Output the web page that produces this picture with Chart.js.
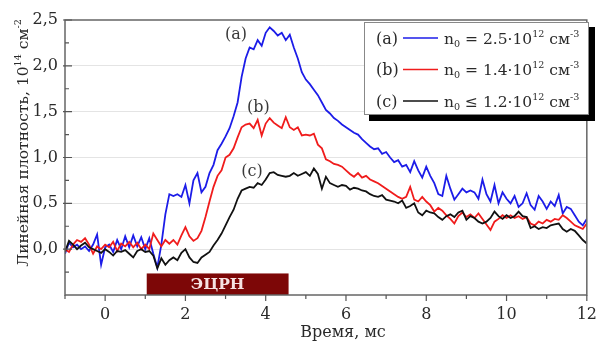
<!DOCTYPE html>
<html><head><meta charset="utf-8">
<script src="https://cdn.jsdelivr.net/npm/chart.js@4/dist/chart.umd.min.js"></script>
<style>html,body{margin:0;padding:0;background:#fff;overflow:hidden}#wrap{width:607px;height:342px;position:relative}</style>
</head><body><div id="wrap"><canvas id="c" width="607" height="342"></canvas></div>
<script>
// Time, ms
const time = [
-1.0,-0.9,-0.8,-0.7,-0.6,-0.5,-0.4,-0.3,-0.2,-0.1,
0.0,0.1,0.2,0.3,0.4,0.5,0.6,0.7,0.8,0.9,
1.0,1.1,1.2,1.3,1.4,1.5,1.6,1.7,1.8,1.9,
2.0,2.1,2.2,2.3,2.4,2.5,2.6,2.7,2.8,2.9,
3.0,3.1,3.2,3.3,3.4,3.5,3.6,3.7,3.8,3.9,
4.0,4.1,4.2,4.3,4.4,4.5,4.6,4.7,4.8,4.9,
5.0,5.1,5.2,5.3,5.4,5.5,5.6,5.7,5.8,5.9,
6.0,6.1,6.2,6.3,6.4,6.5,6.6,6.7,6.8,6.9,
7.0,7.1,7.2,7.3,7.4,7.5,7.6,7.7,7.8,7.9,
8.0,8.1,8.2,8.3,8.4,8.5,8.6,8.7,8.8,8.9,
9.0,9.1,9.2,9.3,9.4,9.5,9.6,9.7,9.8,9.9,
10.0,10.1,10.2,10.3,10.4,10.5,10.6,10.7,10.8,10.9,
11.0,11.1,11.2,11.3,11.4,11.5,11.6,11.7,11.8,11.9,
12.0];
// (a) n0 = 2.5e12
const seriesA = [
-0.05,0.07,0.02,0.05,0.00,0.03,-0.02,0.05,0.16,-0.17,
0.02,0.05,-0.03,0.10,0.00,0.14,0.02,0.15,0.03,0.13,
0.00,0.12,-0.05,-0.20,0.05,0.38,0.60,0.58,0.60,0.57,
0.70,0.50,0.75,0.83,0.62,0.68,0.83,0.92,1.08,1.15,
1.23,1.32,1.45,1.60,1.88,2.08,2.20,2.18,2.28,2.22,
2.36,2.42,2.38,2.33,2.36,2.28,2.34,2.20,2.08,1.93,
1.85,1.80,1.74,1.68,1.60,1.52,1.48,1.43,1.40,1.36,
1.33,1.30,1.27,1.25,1.20,1.16,1.12,1.09,1.10,1.04,
1.06,1.00,0.95,0.97,0.90,0.92,0.84,0.96,0.86,0.78,
0.90,0.80,0.72,0.60,0.58,0.80,0.66,0.54,0.60,0.66,
0.62,0.64,0.62,0.55,0.76,0.60,0.52,0.70,0.50,0.62,
0.55,0.50,0.58,0.46,0.50,0.61,0.48,0.43,0.58,0.52,
0.44,0.52,0.47,0.59,0.39,0.46,0.44,0.37,0.30,0.26,
0.33];
// (b) n0 = 1.4e12
const seriesB = [
0.00,-0.03,0.05,0.10,0.08,0.12,0.05,-0.05,0.03,0.00,
0.05,0.02,0.08,-0.02,0.06,0.03,0.08,0.02,0.07,0.00,
0.05,0.00,0.17,0.10,0.03,0.10,0.06,0.10,0.05,0.15,
0.24,0.14,0.09,0.12,0.20,0.35,0.52,0.68,0.80,0.86,
1.00,1.03,1.10,1.22,1.33,1.36,1.37,1.32,1.41,1.24,
1.37,1.43,1.38,1.35,1.32,1.44,1.33,1.30,1.33,1.24,
1.25,1.24,1.26,1.14,1.10,0.98,0.96,0.93,0.92,0.90,
0.86,0.82,0.79,0.83,0.78,0.80,0.76,0.74,0.72,0.69,
0.66,0.63,0.60,0.57,0.55,0.57,0.68,0.54,0.52,0.57,
0.52,0.48,0.41,0.45,0.42,0.37,0.33,0.28,0.36,0.40,
0.35,0.38,0.34,0.39,0.33,0.27,0.21,0.30,0.33,0.37,
0.34,0.37,0.34,0.36,0.33,0.35,0.28,0.26,0.30,0.28,
0.32,0.30,0.33,0.32,0.37,0.34,0.30,0.26,0.24,0.22,
0.28];
// (c) n0 <= 1.2e12
const seriesC = [
-0.03,0.09,0.05,0.00,0.04,0.07,0.02,0.00,-0.02,-0.04,
0.00,-0.03,-0.07,-0.02,-0.03,-0.01,-0.05,-0.09,-0.02,0.00,
-0.03,-0.02,-0.07,-0.21,-0.10,-0.17,-0.12,-0.09,-0.12,-0.04,
0.00,-0.09,-0.14,-0.15,-0.09,-0.06,-0.03,0.04,0.10,0.17,
0.26,0.35,0.43,0.55,0.64,0.66,0.68,0.67,0.72,0.70,
0.76,0.83,0.84,0.81,0.80,0.79,0.80,0.83,0.80,0.82,
0.84,0.80,0.88,0.82,0.66,0.79,0.72,0.70,0.68,0.70,
0.69,0.65,0.67,0.66,0.64,0.63,0.60,0.58,0.57,0.59,
0.54,0.53,0.52,0.50,0.53,0.45,0.47,0.50,0.40,0.37,
0.42,0.40,0.39,0.35,0.32,0.36,0.38,0.35,0.40,0.42,
0.32,0.36,0.34,0.30,0.28,0.30,0.34,0.41,0.36,0.33,
0.37,0.34,0.36,0.41,0.36,0.35,0.23,0.25,0.22,0.24,
0.23,0.26,0.27,0.28,0.22,0.19,0.22,0.20,0.15,0.10,
0.06];

const xTickValues = [0,2,4,6,8,10,12];
const xTickLabels = ['0','2','4','6','8','10','12'];
const yTickValues = [0,0.5,1.0,1.5,2.0,2.5];
const yTickLabels = ['0,0','0,5','1,0','1,5','2,0','2,5'];
const xMinorTicks = [-1,1,3,5,7,9,11];
const yMinorTicks = [-0.25,0.25,0.75,1.25,1.75,2.25];

const seriesTags = ['(a)','(b)','(c)'];
const seriesRel = ['=','=','\u2264'];
const seriesN0 = ['2.5','1.4','1.2'];
const seriesColors = ['#1c1ce8','#f01c1c','#111111'];

const annoX = [3.26,3.82,3.66];
const annoY = [2.34,1.54,0.84];

const ecrhLabel = 'ЭЦРН';
const ecrhX = [1.036,4.57];
const ecrhY = [-0.5,-0.265];

const xTitle = 'Время, мс';
const FONT = '"DejaVu Serif", "Liberation Serif", serif';

function drawRich(ctx, parts, x, y, size, color){
  let cx = x;
  ctx.fillStyle = color;
  for (const p of parts){
    const s = (p.sup||p.sub) ? size*0.62 : size;
    ctx.font = s+'px '+FONT;
    const dy = p.sup ? -size*0.42 : (p.sub ? size*0.22 : 0);
    ctx.fillText(p.t, cx, y+dy);
    cx += ctx.measureText(p.t).width;
  }
  return cx-x;
}
function richWidth(ctx, parts, size){
  let w=0;
  for (const p of parts){
    const s=(p.sup||p.sub)?size*0.62:size;
    ctx.font = s+'px '+FONT;
    w += ctx.measureText(p.t).width;
  }
  return w;
}

const deco = {
  id:'deco',
  afterDatasetsDraw(chart){
    const ctx = chart.ctx, xs = chart.scales.x, ys = chart.scales.y, a = chart.chartArea;
    ctx.save();
    // ECRH bar
    const bx0 = xs.getPixelForValue(ecrhX[0]), bx1 = xs.getPixelForValue(ecrhX[1]);
    const by0 = ys.getPixelForValue(ecrhY[1]), by1 = ys.getPixelForValue(ecrhY[0]);
    ctx.fillStyle = '#7d0707';
    ctx.fillRect(bx0, by0, bx1-bx0, by1-by0);
    ctx.fillStyle = '#f6e2e2';
    ctx.font = 'bold 15.5px '+FONT;
    ctx.textAlign='center'; ctx.textBaseline='middle';
    ctx.fillText(ecrhLabel, (bx0+bx1)/2, (by0+by1)/2+1);
    // frame
    ctx.strokeStyle='#666'; ctx.lineWidth=1.5;
    ctx.strokeRect(a.left, a.top, a.right-a.left, a.bottom-a.top);
    // ticks
    ctx.lineWidth=1.2; ctx.strokeStyle='#555';
    ctx.beginPath();
    xTickValues.forEach(v=>{const p=xs.getPixelForValue(v); ctx.moveTo(p,a.bottom); ctx.lineTo(p,a.bottom+6);});
    xMinorTicks.forEach(v=>{const p=xs.getPixelForValue(v); ctx.moveTo(p,a.bottom); ctx.lineTo(p,a.bottom+4);});
    yTickValues.forEach(v=>{const p=ys.getPixelForValue(v); ctx.moveTo(a.left-2,p); ctx.lineTo(a.left+7,p);});
    yMinorTicks.forEach(v=>{const p=ys.getPixelForValue(v); ctx.moveTo(a.left,p); ctx.lineTo(a.left+4,p);});
    ctx.stroke();
    // curve labels
    ctx.fillStyle='#3a3a3a'; ctx.font='16px '+FONT; ctx.textAlign='center'; ctx.textBaseline='middle';
    seriesTags.forEach((t,i)=>ctx.fillText(t, xs.getPixelForValue(annoX[i]), ys.getPixelForValue(annoY[i])));
    // legend
    ctx.fillStyle='#000'; ctx.fillRect(369,27,226,94);
    ctx.fillStyle='#fff'; ctx.fillRect(364,22,225,93);
    ctx.strokeStyle='#888'; ctx.lineWidth=1; ctx.strokeRect(364.5,22.5,224,92);
    const rows=[38,69.5,101];
    ctx.textAlign='left'; ctx.textBaseline='alphabetic';
    seriesTags.forEach((t,i)=>{
      const yb = rows[i]+5.5;
      ctx.fillStyle='#2a2a2a'; ctx.font='16px '+FONT;
      ctx.fillText(t, 376, yb);
      ctx.strokeStyle=seriesColors[i]; ctx.lineWidth=1.6;
      ctx.beginPath(); ctx.moveTo(403,rows[i]); ctx.lineTo(438,rows[i]); ctx.stroke();
      const parts=[{t:'n'},{t:'0',sub:true},{t:' '+seriesRel[i]+' '+seriesN0[i]+'\u00b710'},{t:'12',sup:true},{t:' см'},{t:'-3',sup:true}];
      drawRich(ctx, parts, 444, yb, 15.5, '#2a2a2a');
    });
    // axis titles
    ctx.textAlign='center'; ctx.textBaseline='alphabetic';
    ctx.fillStyle='#2a2a2a'; ctx.font='16px '+FONT;
    ctx.fillText(xTitle, 343, 337);
    const yparts=[{t:'Линейная плотность, 10'},{t:'14',sup:true},{t:' см'},{t:'-2',sup:true}];
    ctx.save();
    ctx.translate(22,143); ctx.rotate(-Math.PI/2);
    ctx.textAlign='left';
    const w = richWidth(ctx,yparts,15.5);
    drawRich(ctx, yparts, -w/2, 5.5, 15.5, '#2a2a2a');
    ctx.restore();
    ctx.restore();
  }
};

const mk = (arr)=>time.map((t,i)=>({x:t,y:arr[i]}));
new Chart(document.getElementById('c'),{
  type:'line',
  data:{datasets:[
    {data:mk(seriesC),borderColor:seriesColors[2],borderWidth:1.8},
    {data:mk(seriesB),borderColor:seriesColors[1],borderWidth:1.8},
    {data:mk(seriesA),borderColor:seriesColors[0],borderWidth:1.8}
  ]},
  options:{
    responsive:false, animation:false, devicePixelRatio:1,
    layout:{padding:{left:0,top:20,right:12,bottom:0}},
    elements:{point:{radius:0},line:{tension:0}},
    plugins:{legend:{display:false},tooltip:{enabled:false}},
    scales:{
      x:{type:'linear',min:-1,max:12,
        afterFit(s){s.height=47;},
        afterBuildTicks(s){s.ticks=xTickValues.map(v=>({value:v}));},
        ticks:{autoSkip:false,maxRotation:0,padding:10,color:'#2a2a2a',font:{family:FONT,size:16},
          callback:(v)=>{const i=xTickValues.indexOf(v);return i>=0?xTickLabels[i]:'';}},
        grid:{display:false,drawTicks:false},border:{display:false}},
      y:{type:'linear',min:-0.5,max:2.5,
        afterFit(s){s.width=65;},
        afterBuildTicks(s){s.ticks=[-0.5].concat(yTickValues).map(v=>({value:v}));},
        ticks:{autoSkip:false,padding:7,color:'#2a2a2a',font:{family:FONT,size:16},
          callback:(v)=>{const i=yTickValues.findIndex(t=>Math.abs(t-v)<1e-9);return i>=0?yTickLabels[i]:'';}},
        grid:{drawTicks:false,lineWidth:1,color:(c)=>{const v=c.tick&&c.tick.value;return (v>-0.4&&v<2.4)?'#e4e4e4':'rgba(0,0,0,0)';}},
        border:{display:false}}
    }
  },
  plugins:[deco]
});
</script></body></html>
